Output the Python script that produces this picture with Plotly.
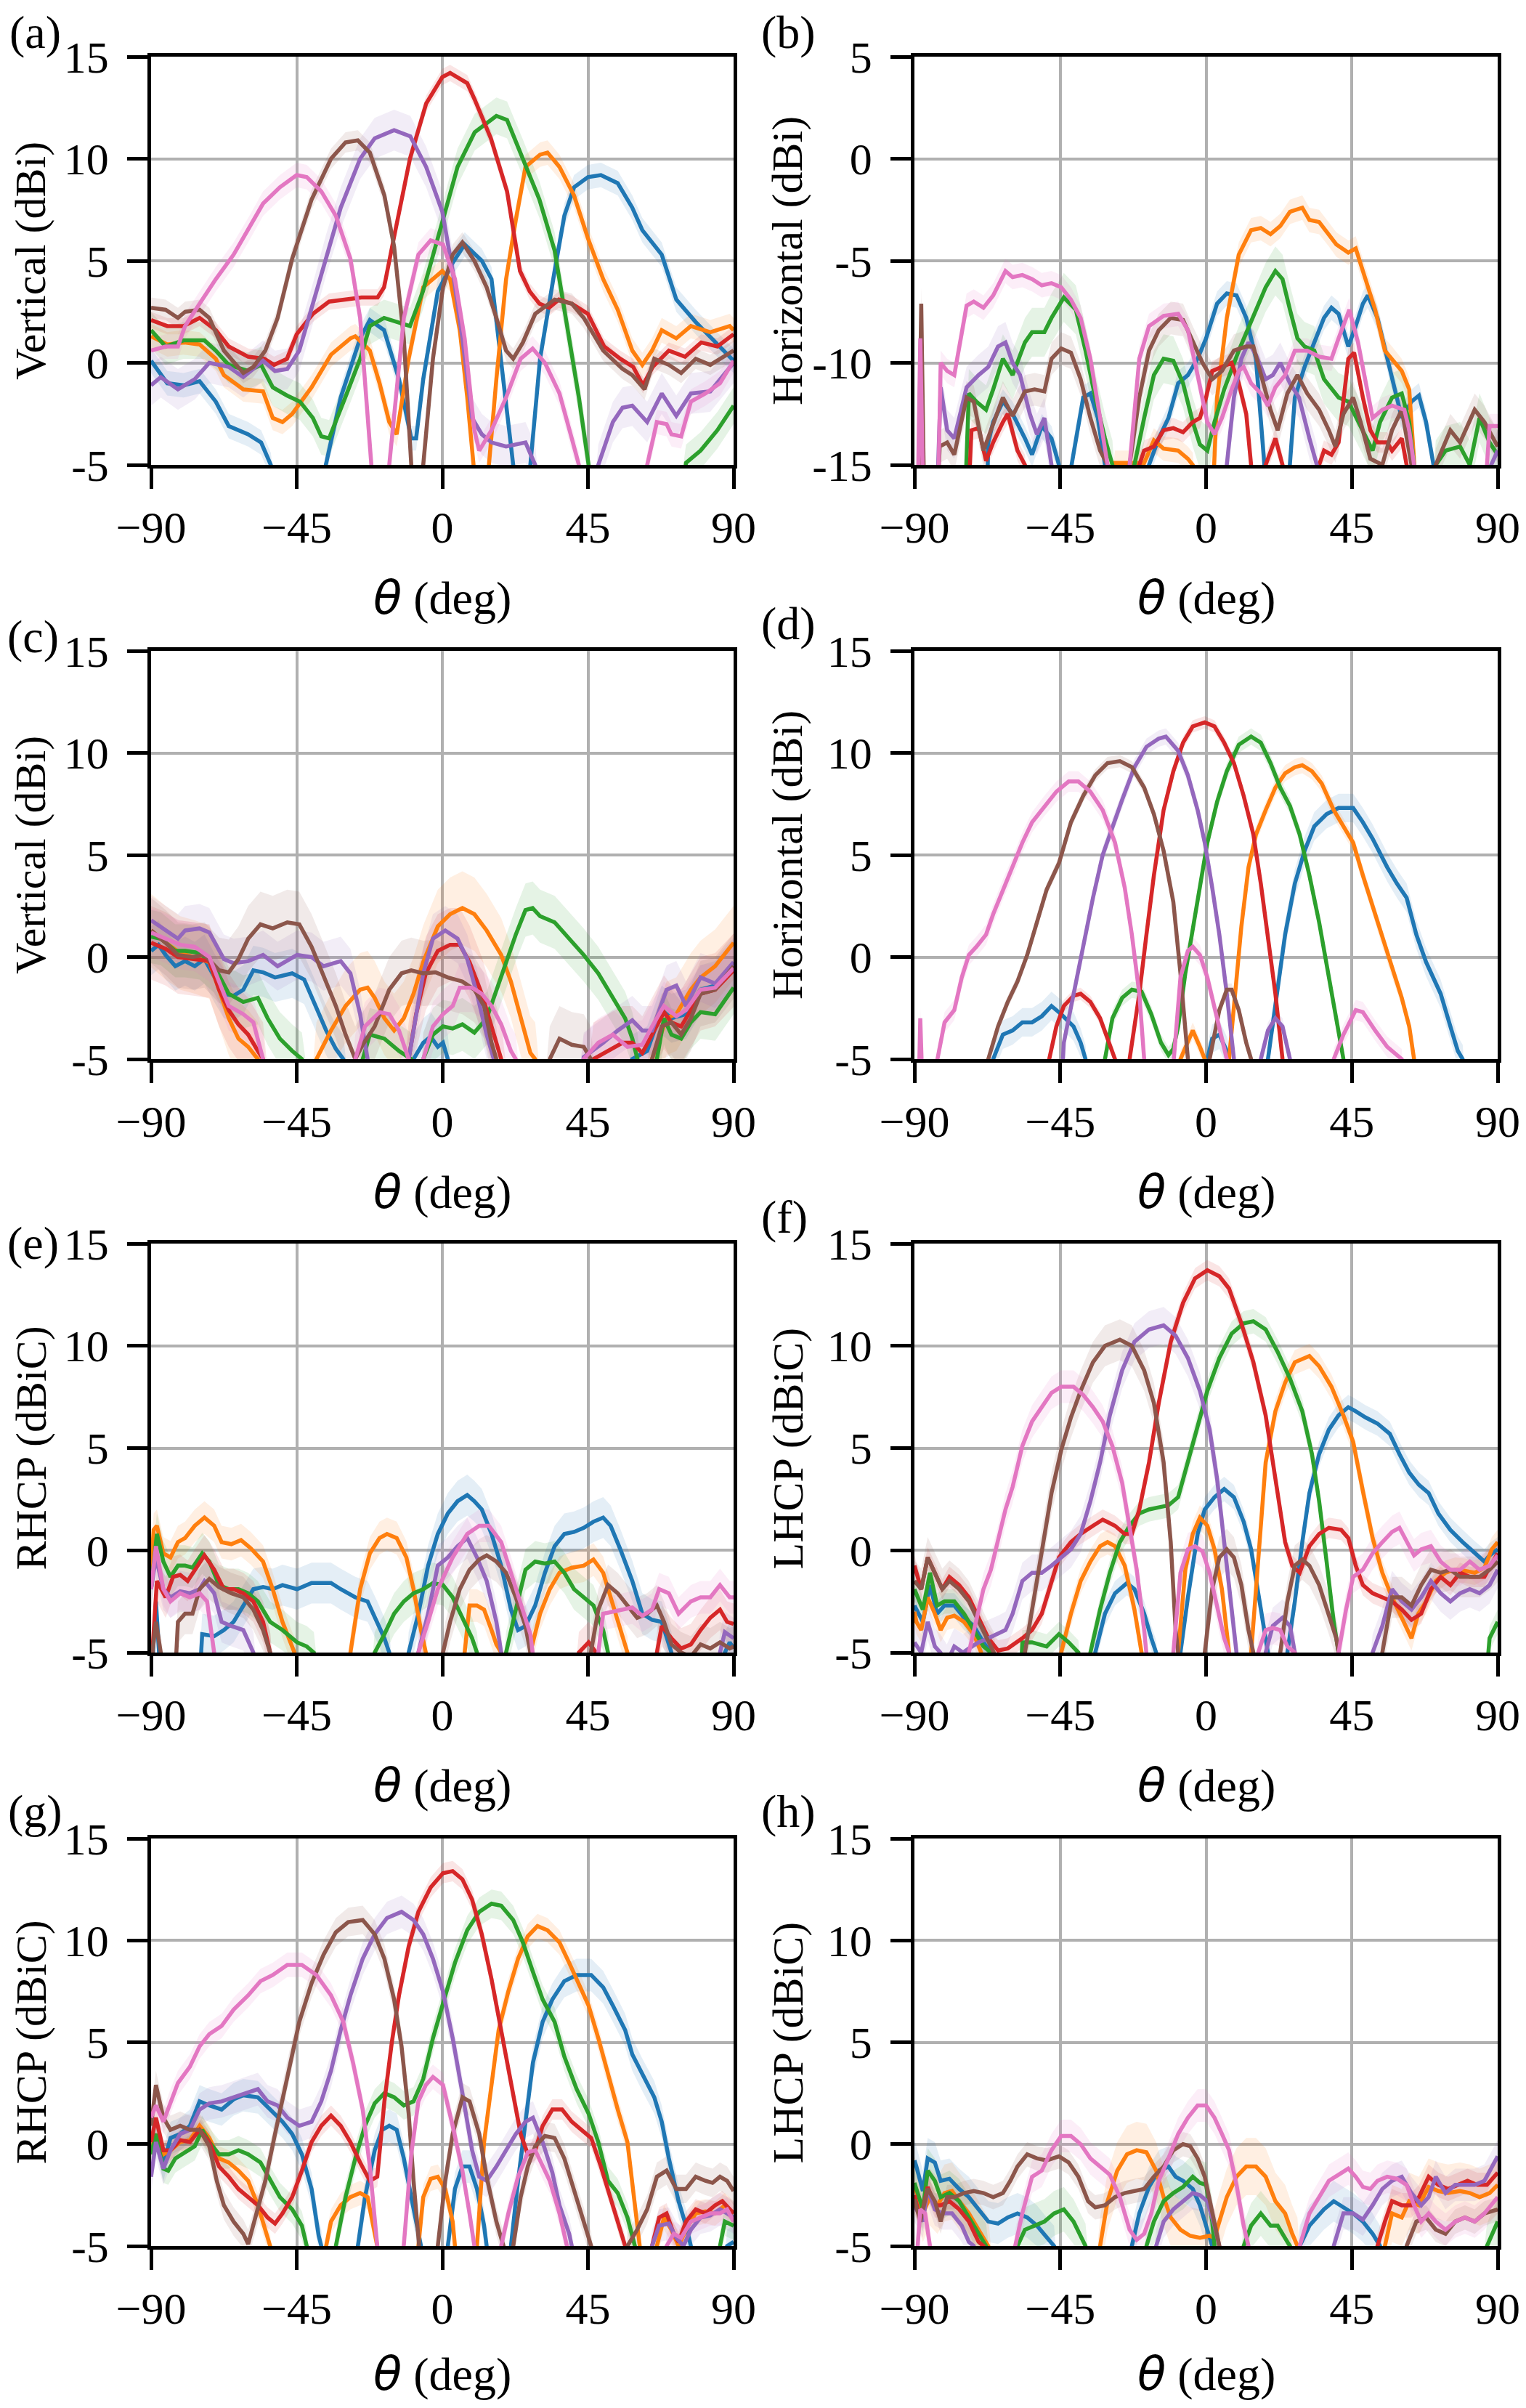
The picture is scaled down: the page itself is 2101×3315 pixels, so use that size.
import plotly.graph_objects as go

# 窗口尺寸 (页面 body 有 8px 边距, 图整体偏移 8px 且不溢出窗口)
WIN_W, WIN_H = 2101, 3315
PAD = 8
W, H = WIN_W - 2 * PAD, WIN_H - 2 * PAD

# matplotlib tab10 配色
COLORS = ['#1f77b4', '#ff7f0e', '#2ca02c', '#d62728', '#9467bd', '#8c564b', '#e377c2']
FILLS = ['rgba(31,119,180,0.12)', 'rgba(255,127,14,0.12)', 'rgba(44,160,44,0.12)',
         'rgba(214,39,40,0.12)', 'rgba(148,103,189,0.12)', 'rgba(140,86,75,0.12)',
         'rgba(227,119,194,0.12)']

X_TICKS = [-90, -45, 0, 45, 90]
X_TICKTEXT = ['\u221290', '\u221245', '0', '45', '90']

# ---------------- (a) Vertical ----------------
A_BLUE = [(-90, 0.1), (-85, -1.0), (-80, -1.1), (-75, -0.9), (-70, -1.9), (-66, -3.1), (-60, -3.5), (-56, -3.9), (-53, -5.0), (-50, -9), (-39, -9), (-36, -5.0), (-31.4, -1.7), (-25.4, 1.2), (-22.4, 2.1), (-18, 1.6), (-13.4, -0.8), (-9.6, -3.7), (-8.1, -3.7), (-5.9, -0.8), (-1.4, 3.5), (3.2, 4.9), (6.9, 5.8), (12.2, 5.0), (15.2, 4.1), (18.2, 0.2), (21.9, -5.0), (24, -9), (26, -9), (27.2, -5.0), (30.2, 0.2), (34.7, 4.5), (37.7, 7.2), (40.7, 8.6), (45, 9.1), (49, 9.2), (54.2, 8.8), (58.7, 7.6), (61.8, 6.5), (67.8, 5.3), (72.3, 3.1), (78.3, 2.0), (84.3, 1.0), (90, 0.1)]
A_ORANGE = [(-90, 1.3), (-85, 0.9), (-80, 1.0), (-75, 0.9), (-70, 0.2), (-67.5, -0.6), (-61.5, -1.3), (-55.4, -1.4), (-52.4, -2.7), (-49.4, -2.9), (-46.4, -2.5), (-40.4, -1.2), (-34.4, 0.4), (-28.4, 1.2), (-26.9, 1.3), (-22.4, 0.6), (-19.4, -1.0), (-16.4, -2.9), (-14.1, -3.5), (-10.4, 0.2), (-5.9, 3.7), (0, 4.5), (2.4, 4.1), (5.4, 1.6), (7.7, -1.7), (9.9, -5.0), (12, -9), (13, -9), (14.4, -5.0), (16.7, -0.8), (19.7, 4.1), (22.7, 7.0), (25.7, 9.6), (30.2, 10.2), (32.5, 10.3), (36.2, 9.6), (40.7, 8.2), (45, 6.1), (49.7, 4.1), (54.2, 2.6), (58.7, 0.6), (61.8, -0.1), (64.8, 0.6), (67.8, 1.6), (72.3, 1.2), (76.8, 1.8), (82.8, 1.5), (88.8, 1.8), (90, 1.6)]
A_GREEN = [(-90, 1.6), (-85.5, 0.8), (-80, 1.1), (-73.5, 1.1), (-70, 0.6), (-66, -0.1), (-60, -0.4), (-56, -0.1), (-52.4, -1.2), (-48, -1.6), (-44, -1.9), (-40, -2.7), (-37.4, -3.6), (-35, -3.7), (-30, -1.7), (-25.4, 0.2), (-22.4, 1.8), (-18, 2.2), (-10, 1.8), (-6, 3.5), (0, 6.9), (4.7, 9.6), (10, 11.3), (16.7, 12.1), (20, 11.9), (25, 10.0), (30, 8.0), (34.7, 5.5), (37.7, 2.6), (42.2, -1.7), (45.2, -5.0), (48, -9), (72, -9), (75.3, -4.9), (79.8, -4.3), (85, -3.3), (90, -2.1)]
A_RED = [(-90, 2.1), (-85, 1.8), (-80, 1.8), (-75, 2.2), (-70, 1.6), (-66, 0.8), (-60, 0.3), (-55, 0.2), (-52, -0.1), (-48, 0.2), (-45, 1.4), (-40, 2.4), (-35, 3.0), (-30, 3.1), (-25, 3.2), (-20, 3.2), (-18, 3.7), (-15, 6.1), (-10, 10.0), (-5, 12.7), (0, 14.0), (2.4, 14.2), (7.7, 13.7), (10, 12.9), (15, 11.0), (20, 8.4), (24, 4.5), (27, 3.5), (30, 2.9), (33, 2.7), (36, 3.1), (40, 2.9), (45, 2.4), (50, 0.8), (55, 0.2), (59, -0.2), (62, -1.1), (65, -0.2), (70, 0.6), (75, 0.3), (80, 1.0), (85, 0.8), (90, 1.4)]
A_PURPLE = [(-90, -1.1), (-87, -0.7), (-81.7, -1.3), (-76.5, -0.8), (-72, 0.0), (-66, -0.2), (-61.5, -0.7), (-55.4, 0.1), (-51.7, -0.4), (-47.9, -0.3), (-44.2, 0.6), (-40, 2.9), (-35.9, 5.3), (-31.4, 7.6), (-25.4, 10.0), (-20.9, 11.0), (-14.9, 11.4), (-9.9, 11.1), (-5, 9.6), (0, 7.4), (3.2, 4.5), (6.2, 1.2), (9.2, -2.7), (12.2, -3.5), (15.2, -3.9), (19.7, -4.1), (25.7, -3.9), (28.7, -5.0), (31, -9), (46, -9), (48.2, -5.0), (52.7, -2.9), (55.7, -2.2), (58.7, -2.1), (63.3, -2.9), (67.8, -1.5), (72.3, -2.6), (76.8, -1.5), (82.8, -1.4), (90, 0.0)]
A_BROWN = [(-90, 2.7), (-85.5, 2.6), (-81.7, 2.2), (-79.5, 2.5), (-75, 2.6), (-72, 2.2), (-67.5, 0.6), (-61.5, -0.5), (-58.4, -0.2), (-54.7, 0.6), (-50.9, 2.2), (-46.4, 5.1), (-40.4, 8.0), (-34.4, 10.0), (-29.9, 10.8), (-26.1, 10.9), (-22.4, 10.3), (-17.9, 8.2), (-14.9, 5.7), (-11.9, 1.2), (-9.6, -5.0), (-8, -9), (-7, -9), (-5.9, -5.0), (-2.9, 0.2), (0.2, 3.7), (3.2, 5.3), (6.2, 5.9), (9.9, 5.0), (13.7, 3.7), (16.7, 2.2), (19.7, 0.6), (21.9, 0.2), (24.9, 1.0), (28.7, 2.4), (34.7, 3.1), (40, 2.9), (43.7, 2.2), (49.7, 0.6), (55.7, -0.3), (58.7, -0.6), (62.5, -1.3), (65.5, 0.2), (70, -0.1), (73.8, -0.5), (78.3, 0.2), (82.8, -0.1), (90, 0.6)]
A_PINK = [(-90, 0.6), (-85.5, 0.8), (-81.7, 0.8), (-79.5, 1.8), (-75, 2.9), (-70, 4.1), (-64.5, 5.3), (-60, 6.5), (-55.4, 7.8), (-50.2, 8.6), (-45, 9.2), (-41.9, 9.1), (-37.4, 8.4), (-32.9, 7.2), (-28.4, 5.1), (-25.4, 2.2), (-22.4, -5.0), (-20, -9), (-18, -9), (-16.4, -5.0), (-11.9, 2.2), (-7.4, 5.3), (-3.6, 6.0), (0.2, 5.8), (3.9, 4.1), (6.9, 1.2), (9.9, -3.3), (11.4, -4.3), (15.2, -3.3), (19.7, -1.7), (24.2, 0.2), (27.9, 0.7), (31.7, 0.0), (36.2, -1.5), (40, -3.7), (42.2, -5.0), (45, -9), (61, -9), (63.3, -5.0), (66.3, -2.9), (69.3, -3.0), (70.8, -3.5), (73.8, -3.6), (76.8, -1.9), (81.3, -1.5), (85.8, -1.0), (90, 0.1)]
A_SPREAD = [0.6, 0.6, 0.9, 0.4, 1.0, 0.5, 0.6]

# ---------------- (b) Horizontal ----------------
B_BLUE = [(-90, -19), (-68, -19), (-67.2, -13.9), (-65.7, -12.9), (-62.7, -11.9), (-59.7, -12.5), (-55.9, -13.7), (-53.7, -14.5), (-50.7, -13.1), (-47.7, -13.7), (-45.4, -15.0), (-43, -19), (-41.5, -15.0), (-40.2, -13.7), (-37.9, -11.7), (-35.7, -11.5), (-33.4, -12.7), (-31.2, -15.0), (-29, -19), (-19, -19), (-17.6, -15.0), (-14.6, -13.7), (-11.6, -12.7), (-8.6, -11.0), (-5.6, -10.6), (-2.6, -9.8), (0, -8.8), (3.4, -7.1), (6.4, -6.6), (9.4, -6.7), (12.4, -7.8), (15.4, -9.8), (18.4, -15.0), (20, -19), (24, -19), (25.9, -15.0), (27.4, -11.7), (30.4, -10.2), (33.4, -9.0), (36.4, -7.8), (38.7, -7.3), (40.9, -7.6), (43.9, -9.2), (46.2, -8.2), (48.4, -7.1), (49.9, -6.7), (52.9, -7.8), (55.9, -9.8), (58.9, -11.7), (60.4, -12.7), (63.4, -11.9), (65.7, -11.6), (67.9, -12.9), (70.2, -15.0), (72, -19), (90, -19)]
B_ORANGE = [(-90, -19), (-31, -19), (-28.1, -14.9), (-19.1, -14.9), (-16.1, -13.8), (-13.1, -14.2), (-8.6, -14.3), (-5.6, -14.7), (-4.1, -15.0), (-2, -19), (1, -19), (2.5, -15.0), (3.4, -11.7), (6.4, -7.8), (10.1, -4.7), (13.9, -3.5), (16.9, -3.4), (19.9, -3.7), (22.9, -3.3), (25.9, -2.6), (29.7, -2.4), (31.9, -3.0), (34.9, -3.1), (37.9, -3.7), (40.2, -4.2), (43.9, -4.6), (46.2, -4.4), (49.2, -5.9), (52.2, -7.4), (55.2, -9.4), (57.4, -9.8), (60.4, -10.4), (62.7, -11.3), (64.2, -15.0), (66, -19), (90, -19)]
B_GREEN = [(-90, -19), (-75, -19), (-74, -15.0), (-73.2, -11.5), (-70.9, -11.9), (-67.9, -12.3), (-65.7, -11.3), (-62.7, -9.8), (-59.7, -10.6), (-55.9, -9.0), (-53.7, -8.5), (-49.9, -8.5), (-47.7, -7.8), (-43.9, -6.8), (-40.2, -7.4), (-37.2, -9.4), (-34.2, -11.7), (-31.2, -13.7), (-28.9, -15.0), (-27, -19), (-24, -19), (-22.1, -15.0), (-19.1, -12.7), (-16.1, -10.6), (-13.1, -9.8), (-10.1, -9.9), (-7.1, -11.0), (-4.1, -12.9), (-1.9, -14.0), (0.4, -14.3), (2.6, -12.9), (5.6, -11.3), (10.1, -9.4), (13.9, -8.0), (18.4, -6.3), (21.4, -5.5), (23.6, -5.9), (25.9, -7.4), (28.2, -8.8), (30.4, -9.2), (33.4, -9.4), (36.4, -10.8), (40.9, -11.7), (43.9, -11.9), (48.4, -13.3), (51.4, -14.3), (53.7, -12.9), (57.4, -11.7), (60.4, -11.5), (62.7, -12.9), (64.2, -15.0), (66, -19), (69, -19), (70.9, -15.0), (73.9, -14.3), (78.4, -14.1), (81.4, -15.0), (84.4, -12.7), (87.5, -13.9), (90, -14.5)]
B_RED = [(-90, -19), (-74, -19), (-72.4, -13.3), (-70.2, -13.2), (-67.9, -14.8), (-65.7, -13.9), (-62.7, -12.9), (-61.2, -12.5), (-58.2, -14.3), (-55.9, -15.0), (-54, -19), (-22, -19), (-20.6, -15.0), (-19.1, -14.3), (-16.1, -14.1), (-13.1, -13.3), (-10.1, -13.2), (-7.1, -13.4), (-4.1, -12.9), (-1.9, -12.7), (0, -11.7), (1.9, -10.4), (4.9, -10.2), (7.9, -10.0), (10.1, -11.0), (12.4, -12.5), (13.9, -15.0), (16, -19), (17, -19), (18.4, -15.0), (21.4, -13.7), (23.6, -15.0), (25, -19), (33, -19), (34.9, -15.0), (36.4, -14.3), (38.7, -14.5), (40.9, -13.9), (43.9, -9.8), (45.7, -9.5), (48.4, -11.7), (50.7, -13.3), (52.9, -13.9), (55.9, -13.9), (57.4, -14.3), (60.4, -13.7), (61.9, -15.0), (64, -19), (90, -19)]
B_PURPLE = [(-90, -19), (-83.5, -19), (-81.9, -11.2), (-79.9, -13.3), (-77.7, -13.7), (-73.9, -11.2), (-70.2, -10.6), (-67.2, -10.2), (-64.2, -9.2), (-61.9, -9.0), (-59.7, -10.0), (-57.4, -10.6), (-54.4, -12.5), (-52.2, -13.5), (-49.9, -12.7), (-47.7, -15.0), (-46, -19), (5, -19), (6.4, -15.0), (8.6, -11.7), (10.9, -9.8), (13.1, -9.0), (15.4, -9.6), (18.4, -10.8), (20.6, -10.6), (22.9, -10.0), (25.9, -11.0), (28.7, -11.7), (31.9, -13.7), (34.2, -15.0), (36, -19), (86, -19), (88, -15.0), (90, -14.3)]
B_BROWN = [(-90, -19), (-89, -19), (-87.9, -7.1), (-86.8, -19), (-83.5, -19), (-82.2, -14.1), (-79.9, -13.9), (-77.7, -14.5), (-73.9, -11.7), (-71.7, -11.9), (-68.7, -14.3), (-66.4, -13.3), (-62.7, -11.7), (-59.7, -12.6), (-55.9, -11.4), (-52.9, -11.3), (-49.9, -11.4), (-47.7, -9.8), (-44.7, -9.3), (-41.7, -9.5), (-38.7, -10.8), (-35.7, -12.7), (-32.7, -14.3), (-30.4, -15.0), (-28, -19), (-25, -19), (-23.6, -15.0), (-20.6, -11.7), (-17.6, -9.4), (-14.6, -8.4), (-10.9, -7.8), (-7.1, -7.9), (-4.1, -9.0), (-1.1, -10.0), (1.9, -10.8), (4.9, -10.4), (8.6, -9.4), (12.4, -9.2), (14.6, -9.2), (16.9, -10.6), (19.9, -12.3), (22.1, -13.3), (25.1, -11.5), (28.2, -10.6), (31.2, -11.5), (34.9, -12.3), (37.9, -13.3), (39.9, -14.1), (42.4, -12.5), (45.4, -11.7), (47.7, -12.9), (50.7, -14.7), (54.4, -15.0), (57.4, -13.3), (60.4, -12.3), (63.4, -15.0), (65, -19), (69.5, -19), (70.9, -15.0), (75.4, -13.3), (78.4, -13.9), (82.9, -12.3), (85.9, -12.9), (90, -14.1)]
B_PINK = [(-90, -19), (-89.2, -19), (-88.2, -8.8), (-87, -19), (-83, -19), (-81.9, -10.0), (-79.9, -10.4), (-77.7, -10.6), (-73.9, -7.2), (-71.7, -7.0), (-68.7, -7.3), (-65.7, -6.7), (-61.9, -5.5), (-59.7, -5.8), (-56.7, -5.7), (-53.7, -5.9), (-50.7, -6.2), (-47.7, -6.1), (-44.7, -6.3), (-41.7, -6.9), (-38.7, -7.8), (-35.7, -9.8), (-32.7, -12.7), (-30.4, -15.0), (-28, -19), (-25, -19), (-23.6, -15.0), (-20.6, -9.8), (-17.6, -8.2), (-13.1, -7.7), (-8.6, -7.6), (-5.6, -8.4), (-2.6, -10.6), (0.4, -12.9), (2.6, -13.5), (4.9, -12.7), (7.9, -11.3), (10.1, -10.4), (11.6, -10.2), (13.9, -11.0), (16.9, -11.5), (19.1, -12.1), (21.4, -11.2), (24.4, -10.6), (27.4, -9.4), (31.2, -9.4), (34.9, -9.7), (38.7, -9.8), (40.9, -8.8), (44.2, -7.4), (46.9, -9.0), (49.2, -11.0), (51.4, -12.7), (54.4, -12.3), (57.4, -12.1), (61.2, -12.3), (62.7, -13.3), (64.2, -15.0), (66, -19), (85, -19), (87.5, -13.1), (90, -13.1)]
B_SPREAD = [0.6, 0.6, 1.2, 0.5, 1.0, 0.8, 0.6]

# ---------------- (c) Vertical ----------------
C_BLUE = [(-90, 0.3), (-87.7, 0.6), (-85.5, 0.1), (-82.5, -0.45), (-79.5, -0.2), (-76.5, -0.45), (-73.5, -0.1), (-70.5, -1.0), (-67.5, -1.8), (-64.5, -1.9), (-61.5, -1.6), (-58.4, -0.65), (-55.4, -0.75), (-51.7, -1.0), (-46.4, -0.8), (-42.7, -1.1), (-39.7, -2.2), (-35.9, -3.6), (-32.9, -4.5), (-30.6, -5.0), (-28, -9), (-11, -9), (-8.9, -5.0), (-5.9, -4.2), (-3.6, -3.9), (-1.4, -4.4), (0.2, -4.2), (1.7, -5.0), (4, -9), (56, -9), (58.7, -5.0), (63.3, -4.6), (67.8, -2.6), (70.8, -3.0), (75.3, -2.8), (79.8, -1.6), (84.3, -1.4), (90, -0.45)]
C_ORANGE = [(-90, 1.3), (-85.5, 0.7), (-81, 0.2), (-76.5, 0.0), (-72, -0.25), (-69, -1.6), (-66, -3.0), (-63, -4.0), (-60, -4.4), (-57, -5.0), (-55, -9), (-41, -9), (-38.9, -5.0), (-34.4, -3.6), (-29.9, -2.4), (-25.4, -1.6), (-23.1, -1.5), (-20.9, -2.0), (-17.9, -3.0), (-14.9, -3.6), (-11.9, -3.0), (-8.9, -1.8), (-5.9, -0.25), (-1.4, 1.5), (2.4, 2.1), (6.2, 2.4), (9.9, 2.1), (13.7, 1.3), (18.2, 0.1), (21.2, -1.2), (24.2, -3.0), (27.2, -4.7), (28.7, -5.0), (31, -9), (62, -9), (64.8, -5.0), (69.3, -3.0), (72.3, -2.8), (76.8, -1.6), (79.8, -1.0), (84.3, -0.45), (90, 0.7)]
C_GREEN = [(-90, 1.0), (-87, 0.9), (-82.5, 0.3), (-79.5, 0.3), (-75, 0.2), (-70.5, -0.45), (-66, -1.8), (-61.5, -2.2), (-57, -2.0), (-54, -3.0), (-50.2, -4.0), (-46.4, -4.6), (-43.4, -5.0), (-40, -9), (-28, -9), (-24.6, -5.0), (-22.4, -3.8), (-17.9, -4.0), (-13.4, -4.6), (-9.6, -5.0), (-8, -9), (-7, -9), (-5.9, -5.0), (-2.9, -3.8), (0.2, -3.4), (3.2, -3.5), (6.2, -3.3), (9.9, -3.7), (13.7, -3.0), (16.7, -1.6), (19.7, -0.25), (22.7, 1.1), (25.7, 2.3), (27.9, 2.4), (30.2, 2.0), (34.7, 1.7), (39.2, 0.9), (43.7, 0.1), (48.2, -0.8), (52.7, -2.0), (56.5, -3.0), (58.7, -4.0), (60.3, -5.0), (63, -9), (64, -9), (66.3, -5.0), (68.5, -3.0), (70.8, -3.8), (73.8, -4.0), (76.8, -3.2), (79.8, -2.7), (84.3, -2.8), (90, -1.5)]
C_RED = [(-90, 0.7), (-85.5, 0.4), (-81.7, 0.0), (-76.5, -0.1), (-72, -0.2), (-69, -1.6), (-66, -2.6), (-63, -3.3), (-60, -3.8), (-57, -4.6), (-55.4, -5.0), (-53, -9), (-13, -9), (-10.4, -5.0), (-8.1, -2.8), (-5.1, -0.8), (-1.4, 0.3), (2.4, 0.6), (5.4, 0.6), (8.4, -0.25), (12.2, -1.8), (15.2, -3.4), (18.2, -5.0), (21, -9), (44, -9), (46.7, -5.0), (51.2, -4.6), (55.7, -4.2), (58.7, -4.2), (61.8, -4.7), (64.8, -3.8), (68.5, -2.7), (70.8, -3.2), (73.8, -3.4), (76.8, -2.6), (79.8, -1.8), (84.3, -1.6), (90, -0.65)]
C_PURPLE = [(-90, 1.8), (-85.5, 1.3), (-81.7, 0.9), (-79.5, 1.3), (-75, 1.4), (-72, 1.2), (-67.5, -0.1), (-64.5, -0.3), (-60, -0.2), (-55.4, 0.1), (-50.9, -0.45), (-44.9, 0.1), (-40.4, 0.0), (-36.7, -0.45), (-31.4, -0.2), (-28.4, -0.8), (-25.4, -2.8), (-23.1, -5.0), (-21, -9), (-13, -9), (-10.4, -5.0), (-5.9, -0.8), (-2.9, 0.9), (0.9, 1.3), (4.7, 0.9), (7.7, -0.1), (10.7, -1.8), (13.7, -3.8), (15.9, -5.0), (18, -9), (41, -9), (43.7, -4.9), (49.7, -4.2), (54.2, -3.6), (58.7, -3.1), (61.8, -3.6), (64.8, -3.6), (69.3, -1.6), (72.3, -1.4), (75.3, -2.4), (79.8, -1.0), (84.3, -1.3), (90, -0.25)]
C_BROWN = [(-90, 1.3), (-85.5, 0.7), (-81.7, 0.1), (-77.2, 0.0), (-73.5, 0.1), (-69, -0.65), (-66, -0.75), (-63, -0.1), (-60, 0.9), (-56.2, 1.6), (-52.4, 1.4), (-47.9, 1.7), (-44.2, 1.6), (-40.4, 0.5), (-37.4, -0.65), (-32.9, -2.4), (-29.9, -3.8), (-26.9, -5.0), (-24.6, -4.3), (-20.9, -3.4), (-16.4, -1.6), (-12.6, -0.8), (-9.6, -0.65), (-5.9, -0.8), (-2.1, -0.75), (1.7, -1.0), (6.2, -1.2), (9.9, -1.6), (12.9, -2.4), (15.2, -4.2), (16.7, -5.0), (19, -9), (31, -9), (33.2, -5.0), (36.2, -4.0), (40, -4.3), (43.7, -4.4), (45.9, -5.0), (48, -9), (62, -9), (64.8, -5.0), (67.8, -3.4), (70.8, -3.2), (73.8, -3.8), (76.8, -3.0), (79.8, -1.8), (84.3, -1.6), (90, -0.45)]
C_PINK = [(-90, 1.2), (-85.5, 0.9), (-81, 0.6), (-76.5, 0.5), (-72, 0.0), (-69, -1.2), (-66, -2.4), (-61.5, -2.8), (-58.4, -3.2), (-55.4, -5.0), (-53, -9), (-29, -9), (-26.9, -5.0), (-23.9, -3.4), (-19.4, -2.7), (-16.4, -2.8), (-13.4, -3.6), (-10.4, -5.0), (-8, -9), (-7.5, -9), (-5.9, -5.0), (-2.9, -3.4), (0.2, -2.8), (3.2, -2.4), (5.4, -1.5), (9.2, -1.5), (12.2, -1.8), (15.2, -2.4), (18.2, -3.3), (21.2, -4.6), (22.7, -5.0), (25, -9), (41, -9), (43.7, -5.0), (48.2, -4.2), (52.7, -3.8), (57.2, -4.4), (61.8, -4.3), (64.8, -3.4), (68.5, -2.4), (72.3, -2.9), (75.3, -2.6), (79.8, -1.6), (84.3, -1.5), (90, -0.55)]
C_SPREAD = [1.2, 1.8, 1.3, 1.8, 1.2, 1.6, 1.2]

# ---------------- (d) Horizontal ----------------
D_BLUE = [(-90, -9), (-67, -9), (-65.7, -5.0), (-62.7, -3.8), (-59.7, -3.6), (-56.7, -3.2), (-53.7, -3.2), (-50.7, -2.9), (-47.7, -2.4), (-44.7, -2.8), (-40.9, -3.4), (-38.7, -4.2), (-37.2, -5.0), (-35, -9), (-1, -9), (0.4, -5.0), (1.9, -4.0), (4.1, -3.8), (6.4, -4.6), (7.1, -5.0), (9, -9), (17, -9), (19.1, -5.0), (21.4, -2.2), (24.4, 1.1), (27.4, 3.6), (30.4, 5.2), (33.4, 6.4), (37.2, 7.0), (40.9, 7.3), (45.4, 7.3), (48.4, 6.6), (51.4, 5.8), (55.9, 4.4), (58.9, 3.6), (61.9, 2.9), (64.9, 1.1), (67.9, -0.25), (72.4, -1.8), (75.4, -3.4), (77.7, -4.6), (79.2, -5.0), (81, -9), (90, -9)]
D_ORANGE = [(-90, -9), (-9.5, -9), (-7.9, -5.0), (-5.6, -4.2), (-4.1, -3.6), (-1.9, -4.4), (-0.4, -5.0), (1.5, -9), (5.5, -9), (7.1, -5.0), (8.6, -2.6), (10.9, 1.5), (13.1, 4.4), (15.4, 6.0), (18.4, 7.2), (21.4, 8.3), (24.4, 9.0), (27.4, 9.3), (29.7, 9.4), (32.7, 9.1), (35.7, 8.5), (39.4, 7.2), (42.4, 6.4), (45.4, 5.6), (48.4, 4.0), (51.4, 2.5), (54.4, 0.9), (57.4, -0.6), (60.4, -2.0), (62.7, -3.4), (64.2, -5.0), (66, -9), (90, -9)]
D_GREEN = [(-90, -9), (-33, -9), (-31.2, -5.0), (-28.9, -3.0), (-25.9, -2.0), (-22.9, -1.6), (-19.9, -1.7), (-16.9, -2.8), (-13.9, -4.2), (-11.6, -4.8), (-10.1, -4.5), (-8.6, -3.4), (-6.4, -0.8), (-4.1, 1.3), (-1.9, 3.3), (0.4, 5.6), (3.4, 7.6), (6.4, 9.1), (10.1, 10.4), (13.9, 10.8), (16.9, 10.5), (19.9, 9.5), (22.9, 8.3), (25.9, 7.4), (28.9, 6.0), (31.9, 4.0), (34.9, 1.7), (37.9, -1.0), (40.9, -3.8), (42.4, -5.0), (44, -9), (90, -9)]
D_RED = [(-90, -9), (-50, -9), (-48.4, -5.0), (-46.2, -3.4), (-43.9, -2.4), (-40.9, -1.9), (-38.7, -1.8), (-35.7, -2.2), (-32.7, -3.0), (-30.4, -4.0), (-28.1, -5.0), (-26, -9), (-25, -9), (-23.6, -5.0), (-20.6, -1.8), (-18.4, 1.1), (-16.1, 4.0), (-13.1, 7.2), (-10.1, 9.1), (-7.1, 10.5), (-4.1, 11.3), (-0.4, 11.5), (2.6, 11.3), (5.6, 10.5), (8.6, 9.5), (11.6, 7.9), (14.6, 6.0), (16.9, 3.6), (19.1, 1.1), (21.4, -1.8), (23.6, -5.0), (25, -9), (90, -9)]
D_PURPLE = [(-90, -9), (-45.5, -9), (-43.9, -4.2), (-40.9, -1.8), (-37.9, 0.5), (-34.9, 2.9), (-31.9, 5.0), (-28.9, 6.4), (-25.9, 7.7), (-22.1, 9.3), (-18.4, 10.3), (-14.6, 10.7), (-12.4, 10.8), (-8.6, 10.1), (-5.6, 8.9), (-2.6, 7.2), (-0.4, 5.6), (1.9, 3.4), (4.1, 1.1), (6.4, -1.8), (8.6, -5.0), (10, -9), (15, -9), (16.9, -5.0), (19.1, -3.6), (21.4, -3.0), (23.6, -3.4), (25.9, -5.0), (27, -9), (90, -9)]
D_BROWN = [(-90, -9), (-69, -9), (-67.2, -5.0), (-64.2, -3.4), (-61.2, -2.2), (-58.2, -1.2), (-55.2, 0.1), (-52.2, 1.7), (-49.2, 3.3), (-45.4, 4.6), (-41.7, 6.6), (-37.9, 7.9), (-34.2, 8.9), (-30.4, 9.5), (-26.6, 9.6), (-22.9, 9.3), (-19.1, 8.3), (-16.1, 7.0), (-13.1, 5.2), (-10.1, 2.7), (-7.9, -0.8), (-5.6, -5.0), (-3, -9), (-0.5, -9), (1.1, -5.0), (4.1, -2.6), (6.4, -1.6), (7.9, -1.6), (10.1, -2.6), (12.4, -4.2), (13.9, -5.0), (15.5, -9), (90, -9)]
D_PINK = [(-90, -9), (-89, -9), (-88.2, -3.0), (-87, -9), (-84, -9), (-82.9, -5.0), (-80.7, -3.2), (-77.7, -2.6), (-75.4, -1.0), (-73.2, 0.1), (-70.9, 0.5), (-67.9, 1.1), (-65.7, 2.1), (-62.7, 3.3), (-59.7, 4.4), (-56.7, 5.6), (-53.7, 6.6), (-49.9, 7.4), (-46.2, 8.1), (-42.4, 8.6), (-39.4, 8.6), (-35.7, 8.1), (-31.9, 7.2), (-28.1, 5.6), (-25.1, 3.4), (-22.9, 1.1), (-20.6, -1.8), (-19.1, -5.0), (-17, -9), (-12, -9), (-10.1, -5.0), (-7.9, -1.0), (-5.6, 0.3), (-4.1, 0.5), (-1.9, 0.1), (0.4, -1.0), (3.4, -3.0), (6.4, -5.0), (8, -9), (37.5, -9), (39.4, -5.0), (42.4, -3.8), (46.2, -2.6), (48.4, -2.7), (52.2, -3.6), (55.9, -4.4), (60.4, -5.0), (62, -9), (90, -9)]
D_SPREAD = [0.7, 0.4, 0.4, 0.3, 0.4, 0.3, 0.5]

# ---------------- (e) RHCP ----------------
E_BLUE = [(-90, -9), (-89.4, -5.0), (-88.5, -2.5), (-87.5, -5.0), (-86, -9), (-76, -9), (-74.2, -4.1), (-70.5, -4.2), (-67.5, -3.9), (-64.5, -3.5), (-61.5, -2.7), (-58.4, -1.9), (-55.4, -1.8), (-52.4, -1.9), (-49.4, -1.7), (-44.9, -1.9), (-40.4, -1.6), (-34.4, -1.6), (-31.4, -1.9), (-26.9, -2.3), (-23.1, -2.5), (-20.1, -3.5), (-17.9, -4.3), (-16.4, -5.0), (-14, -9), (-12, -9), (-10.4, -5.0), (-7.4, -3.1), (-4.4, -0.75), (-1.4, 0.8), (1.7, 1.8), (4.7, 2.4), (7.7, 2.7), (9.9, 2.4), (12.2, 2.0), (15.2, 0.8), (18.2, -0.75), (21.2, -2.9), (23.4, -3.9), (25.7, -3.7), (28.7, -2.7), (31.7, -1.1), (34.7, 0.2), (37.7, 0.8), (40.7, 0.9), (43.7, 1.1), (46.7, 1.4), (49.7, 1.6), (52, 1.2), (55, 0.05), (58.7, -1.5), (61.8, -3.1), (64.8, -3.4), (67.8, -3.5), (70.8, -5.0), (73, -9), (85, -9), (87.3, -5.0), (88.8, -4.5), (90, -4.8)]
E_ORANGE = [(-90, -1.0), (-89.2, 1.0), (-88.2, 1.2), (-86.2, -0.15), (-84, -0.35), (-81.7, 0.4), (-79.5, 0.6), (-76.5, 1.2), (-73.5, 1.6), (-70.5, 1.2), (-68.2, 0.4), (-65.2, 0.3), (-62.2, 0.5), (-59.2, 0.1), (-55.4, -0.55), (-52.4, -1.9), (-49.4, -3.5), (-46.4, -4.8), (-45.7, -5.0), (-43, -9), (-31, -9), (-28.4, -5.0), (-25.4, -1.9), (-22.4, -0.15), (-19.4, 0.6), (-17.1, 0.8), (-14.1, 0.6), (-11.1, -0.35), (-8.9, -1.9), (-6.6, -3.9), (-5.1, -5.0), (-3, -9), (5, -9), (6.9, -5.0), (8.4, -2.7), (10.7, -2.7), (12.9, -2.9), (15.2, -3.9), (16.7, -4.6), (18.2, -5.0), (20, -9), (25, -9), (27.2, -5.0), (30.2, -3.1), (33.2, -1.9), (36.2, -1.1), (40, -0.85), (43.7, -0.75), (46.7, -0.45), (49.7, -1.1), (52.7, -2.7), (55.7, -4.3), (57.2, -5.0), (59, -9), (90, -9)]
E_GREEN = [(-90, -1.9), (-88.2, 0.8), (-86.2, -0.55), (-84, -1.3), (-81.7, -0.75), (-79.5, -0.75), (-77.2, -0.85), (-74.2, -0.15), (-72, -0.55), (-69, -1.7), (-66, -1.9), (-63, -1.9), (-60, -2.1), (-57, -2.5), (-53.2, -3.5), (-49.4, -3.9), (-44.9, -4.5), (-41.9, -4.7), (-39.7, -5.0), (-37, -9), (-23, -9), (-20.9, -5.0), (-17.9, -4.1), (-14.9, -3.1), (-11.9, -2.5), (-8.9, -2.1), (-5.9, -1.9), (-2.9, -1.6), (0.2, -1.7), (3.2, -2.3), (6.2, -3.3), (9.2, -4.3), (10.7, -5.0), (13, -9), (17.5, -9), (19.7, -5.0), (22.7, -2.9), (25.7, -0.95), (28.7, -0.55), (31.7, -0.65), (34.7, -0.55), (37.7, -1.1), (40.7, -1.9), (43.7, -2.3), (46.7, -2.7), (49.7, -3.9), (51.2, -5.0), (53, -9), (90, -9)]
E_RED = [(-90, -9), (-89.6, -5.0), (-88.2, -1.5), (-85.5, -2.3), (-83.2, -1.3), (-81, -1.2), (-78.7, -1.5), (-76.5, -0.95), (-73.5, -0.25), (-70.5, -0.95), (-67.5, -1.9), (-64.5, -1.9), (-61.5, -2.1), (-58.4, -2.5), (-55.4, -3.5), (-53.2, -5.0), (-51, -9), (40, -9), (42.2, -5.0), (45.2, -4.5), (47.5, -5.0), (49, -9), (64, -9), (66.3, -5.0), (67.8, -3.7), (70.8, -4.3), (73.8, -4.8), (76.8, -4.6), (79.8, -3.9), (82.8, -3.3), (85.8, -2.9), (88, -3.5), (90, -3.6)]
E_PURPLE = [(-90, -1.9), (-88.5, -0.35), (-86.2, -1.9), (-84, -2.3), (-81, -2.0), (-78, -2.1), (-75, -1.9), (-73.5, -1.5), (-70.5, -2.1), (-68.2, -3.5), (-65.2, -3.7), (-61.5, -3.9), (-58.4, -5.0), (-56, -9), (-9.5, -9), (-7.4, -5.0), (-4.4, -3.1), (-1.4, -0.75), (1.7, -0.35), (4.7, 0.2), (7.7, 0.6), (10.7, -0.35), (13.7, -1.5), (16.7, -3.5), (18.2, -5.0), (20, -9), (84, -9), (85.8, -5.0), (87.3, -4.0), (90, -4.3)]
E_BROWN = [(-90, -9), (-89.6, -5.0), (-88.5, -3.5), (-87, -5.0), (-85, -9), (-83.5, -9), (-81.7, -3.5), (-79.5, -3.1), (-77.2, -3.1), (-75, -1.9), (-72, -1.4), (-69, -1.8), (-65.2, -2.1), (-61.5, -2.3), (-58.4, -2.9), (-55.4, -3.9), (-53.2, -5.0), (-51, -9), (-2, -9), (0.2, -5.0), (2.4, -3.5), (5.4, -1.9), (8.4, -0.95), (11.4, -0.45), (13.7, -0.25), (16.7, -0.55), (19.7, -1.1), (22.7, -2.3), (25.7, -3.7), (27.2, -5.0), (29, -9), (44, -9), (45.9, -5.0), (48.2, -2.9), (51.2, -1.7), (54.2, -2.1), (57.2, -2.7), (60.2, -3.3), (63.3, -3.1), (66.3, -2.7), (68.5, -3.5), (70.8, -4.6), (73.8, -5.0), (76.8, -5.2), (79.8, -4.6), (82.8, -4.8), (85.8, -4.5), (88.8, -4.8), (90, -4.7)]
E_PINK = [(-90, -1.9), (-88.5, 0.2), (-86.2, -1.9), (-84, -2.5), (-81, -2.1), (-78, -2.3), (-75, -2.1), (-72.7, -2.5), (-70.5, -5.0), (-69, -9), (-9.5, -9), (-7.4, -5.0), (-4.4, -3.5), (-1.4, -1.9), (3.2, -0.35), (7.7, 0.8), (11.4, 1.2), (14.4, 1.2), (18.2, 0.4), (21.2, -1.1), (24.2, -2.7), (27.2, -4.1), (27.9, -5.0), (30, -9), (46, -9), (48.2, -5.0), (49.7, -3.1), (52.7, -3.0), (55.7, -2.9), (58.7, -2.8), (61.8, -3.2), (64.8, -2.9), (67, -1.9), (70, -2.1), (73, -3.1), (76.8, -2.5), (79.8, -2.3), (82.8, -2.3), (85.8, -1.7), (88.8, -2.3), (90, -2.3)]
E_SPREAD = [1.0, 0.8, 1.0, 1.0, 1.0, 1.0, 0.8]

# ---------------- (f) LHCP ----------------
F_BLUE = [(-90, -2.7), (-87.4, -3.5), (-85.2, -1.7), (-83, -3.1), (-80.7, -2.7), (-77.7, -2.7), (-74.7, -3.3), (-71.7, -3.7), (-68.7, -4.5), (-66.4, -5.0), (-64, -9), (-36, -9), (-34.2, -5.0), (-31.2, -3.1), (-28.1, -2.1), (-24.4, -1.6), (-22.1, -1.9), (-19.1, -3.1), (-16.9, -4.3), (-15.4, -5.0), (-13, -9), (-9.5, -9), (-7.9, -5.0), (-5.6, -2.3), (-2.6, 0.8), (-0.4, 2.0), (2.6, 2.6), (5.6, 3.0), (8.6, 2.6), (11.6, 1.4), (13.9, 0.05), (16.1, -2.1), (18.4, -4.6), (19.1, -5.0), (21, -9), (23.5, -9), (25.1, -5.0), (27.4, -2.5), (29.7, 0.4), (31.9, 2.8), (34.9, 4.7), (37.9, 5.9), (40.9, 6.6), (43.9, 7.0), (46.2, 6.8), (49.2, 6.5), (52.9, 6.2), (56.7, 5.7), (59.7, 4.7), (62.7, 3.8), (65.7, 3.2), (68.7, 2.8), (71.7, 1.8), (75.4, 1.0), (79.2, 0.4), (82.9, -0.15), (85.9, -0.55), (87.5, -0.25), (90, 0.05)]
F_ORANGE = [(-90, -3.0), (-89.4, -3.5), (-87.9, -3.9), (-85.9, -2.3), (-83.7, -3.1), (-81.9, -3.9), (-79.9, -3.3), (-77.7, -3.2), (-74.7, -3.5), (-71.7, -4.1), (-69.4, -5.0), (-67, -9), (-47, -9), (-44.7, -5.0), (-41.7, -3.1), (-38.7, -1.5), (-35.7, -0.55), (-32.7, 0.2), (-30.4, 0.4), (-28.1, 0.2), (-25.1, -0.75), (-22.1, -2.9), (-19.9, -5.0), (-18, -9), (-10, -9), (-8.6, -5.0), (-6.4, -0.95), (-4.1, 0.8), (-1.9, 1.6), (0.4, 1.2), (2.6, 0.05), (4.9, -1.9), (7.1, -5.0), (9, -9), (12, -9), (13.9, -5.0), (16.1, 0.05), (18.4, 4.3), (21.4, 6.8), (24.4, 8.2), (27.4, 9.2), (31.9, 9.5), (34.9, 9.0), (38.7, 8.0), (42.4, 6.6), (45.4, 5.3), (48.4, 2.9), (51.4, 0.6), (54.4, -1.1), (57.4, -2.3), (60.4, -3.3), (63.4, -4.3), (65.5, -3.1), (67.9, -2.5), (70.9, -1.5), (73.9, -1.1), (76.9, -0.95), (79.9, -1.0), (82.9, -1.1), (85.9, -0.85), (88.2, 0.05), (90, 0.4)]
F_GREEN = [(-90, -1.9), (-87.4, -2.9), (-85.2, -1.1), (-83, -2.7), (-80.7, -2.5), (-77.7, -2.5), (-74.7, -3.1), (-71.7, -3.9), (-68.7, -4.7), (-66.4, -5.0), (-64, -9), (-58, -9), (-56.7, -4.5), (-53.7, -4.5), (-49.2, -4.7), (-45.4, -4.1), (-42.4, -4.5), (-39.4, -5.0), (-37.5, -9), (-36.5, -9), (-35.7, -5.0), (-32.7, -2.9), (-29.7, -1.1), (-26.6, 0.4), (-23.6, 1.2), (-20.6, 1.8), (-17.6, 2.0), (-14.6, 2.1), (-11.6, 2.2), (-8.6, 2.6), (-5.6, 4.3), (-2.6, 6.1), (0.4, 7.8), (4.1, 9.4), (7.9, 10.6), (11.6, 11.1), (14.6, 11.2), (18.4, 10.8), (22.1, 9.7), (25.9, 8.4), (29.7, 6.8), (32.7, 4.7), (34.9, 2.4), (37.2, -0.55), (39.4, -3.5), (40.9, -5.0), (43, -9), (85, -9), (87.5, -4.3), (90, -3.5)]
F_RED = [(-90, -0.75), (-87.9, -1.9), (-85.9, -0.35), (-83.7, -1.1), (-81.4, -1.9), (-79.2, -1.3), (-76.2, -1.7), (-73.2, -2.3), (-70.2, -3.3), (-67.2, -4.3), (-64.2, -4.9), (-61.2, -4.8), (-56.7, -4.3), (-53.7, -3.9), (-50.7, -3.1), (-48.4, -1.9), (-45.4, -0.35), (-41.7, 0.4), (-38.7, 0.8), (-34.9, 1.2), (-31.9, 1.5), (-28.1, 1.2), (-25.1, 0.8), (-22.9, 0.8), (-20.6, 2.0), (-17.6, 4.3), (-14.6, 7.2), (-10.9, 10.2), (-7.1, 12.1), (-3.4, 13.3), (0.4, 13.7), (4.1, 13.4), (7.1, 12.8), (10.9, 11.1), (14.6, 9.2), (18.4, 6.6), (21.4, 3.5), (24.4, 0.4), (26.6, -0.75), (28.9, -1.1), (31.9, 0.2), (34.9, 0.8), (37.9, 1.1), (41.7, 1.0), (43.9, 0.6), (46.2, -0.75), (48.4, -1.7), (51.4, -2.1), (54.4, -2.3), (57.4, -2.5), (60.4, -2.9), (63.4, -3.4), (66.4, -3.1), (69.4, -1.9), (72.4, -1.3), (75.4, -1.7), (78.4, -1.1), (81.4, -1.3), (85.9, -1.3), (90, -0.15)]
F_PURPLE = [(-90, -4.5), (-87.9, -5.0), (-85.9, -3.5), (-83.7, -4.7), (-82, -5.0), (-80, -5.5), (-77.7, -4.7), (-75, -5.0), (-73.2, -4.8), (-70.2, -4.5), (-67.2, -4.3), (-64.2, -4.1), (-61.9, -3.9), (-59.7, -3.1), (-56.7, -1.5), (-53.7, -1.1), (-50.7, -1.1), (-47.7, -0.75), (-44.7, -0.35), (-41.7, 0.05), (-38.7, 0.8), (-35.7, 2.4), (-32.7, 4.3), (-29.7, 6.6), (-25.9, 8.8), (-22.1, 10.2), (-17.6, 10.8), (-13.1, 11.0), (-9.4, 10.5), (-5.6, 9.4), (-1.9, 7.8), (1.1, 5.9), (3.4, 3.5), (5.6, 0.4), (7.9, -3.1), (9.4, -5.0), (11, -9), (16.5, -9), (18.4, -5.0), (20.6, -3.7), (23.6, -3.3), (25.9, -3.7), (27.4, -5.0), (29, -9), (49, -9), (51.4, -5.0), (54.4, -3.7), (57.4, -1.9), (60.4, -2.5), (63.4, -2.9), (66.4, -2.3), (69.4, -1.5), (72.4, -2.1), (75.4, -2.5), (78.4, -2.1), (81.4, -1.9), (84.4, -2.1), (87.5, -1.7), (90, -0.95)]
F_BROWN = [(-90, -1.5), (-87.9, -1.9), (-85.9, -0.35), (-83.7, -1.1), (-81.4, -1.9), (-79.2, -1.5), (-76.2, -1.9), (-73.2, -2.5), (-70.2, -3.5), (-67.2, -4.5), (-65.5, -5.0), (-63, -9), (-57.5, -9), (-55.9, -5.0), (-53.7, -2.9), (-50.7, 0.05), (-47.7, 2.8), (-44.7, 4.9), (-41.7, 6.5), (-38.7, 7.8), (-34.9, 9.2), (-31.2, 10.0), (-26.6, 10.3), (-22.9, 10.0), (-19.1, 8.8), (-16.1, 7.2), (-13.1, 4.3), (-10.9, 0.4), (-9.4, -3.9), (-8.6, -5.0), (-7, -9), (-2, -9), (-0.4, -5.0), (1.9, -1.9), (4.1, -0.35), (6.4, 0.05), (8.6, -0.35), (10.9, -1.7), (13.1, -3.9), (14.6, -5.0), (16, -9), (21, -9), (22.9, -5.0), (25.1, -2.5), (27.4, -0.75), (29.7, -0.45), (31.9, -0.75), (34.9, -1.7), (37.9, -3.1), (40.2, -4.3), (40.9, -5.0), (43, -9), (52, -9), (54.4, -5.0), (57.4, -2.3), (60.4, -2.3), (63.4, -2.7), (66.4, -1.7), (69.4, -0.95), (72.4, -1.1), (75.4, -0.95), (78.4, -1.3), (81.4, -1.3), (84.4, -1.3), (87.5, -0.95), (90, -0.55)]
F_PINK = [(-90, -9), (-75, -9), (-73.2, -5.0), (-70.9, -3.5), (-68.7, -1.9), (-66.4, -0.95), (-64.2, 0.4), (-61.9, 2.0), (-59.7, 3.1), (-56.7, 5.1), (-53.7, 6.3), (-50.7, 7.0), (-47.7, 7.7), (-44.7, 8.0), (-40.9, 8.0), (-37.9, 7.6), (-34.9, 7.0), (-31.9, 6.3), (-28.9, 5.1), (-25.9, 3.3), (-23.6, 1.2), (-21.4, -0.95), (-19.1, -3.9), (-18.4, -5.0), (-16, -9), (-12, -9), (-10.1, -5.0), (-7.9, -1.1), (-5.6, 0.05), (-3.4, 0.2), (-1.1, -0.05), (1.1, -1.1), (3.4, -2.7), (5.6, -4.3), (7.1, -5.0), (9, -9), (14, -9), (16.1, -5.0), (18.4, -3.9), (20.6, -3.8), (22.9, -3.9), (25.1, -4.7), (27.4, -5.0), (29, -9), (39, -9), (40.9, -5.0), (43.2, -2.9), (45.4, -1.3), (48.4, -0.95), (51.4, -0.15), (54.4, 0.4), (57.4, 0.9), (59.7, 1.1), (61.9, 0.4), (64.2, -0.25), (66.4, 0.05), (69.4, 0.2), (72.4, -0.55), (75.4, -0.95), (78.4, -0.95), (81.4, -0.55), (84.4, -0.95), (87.5, -0.75), (90, -0.25)]
F_SPREAD = [0.6, 0.6, 0.6, 0.5, 0.9, 1.0, 0.8]

# ---------------- (g) RHCP ----------------
G_BLUE = [(-90, 0.1), (-88.5, 0.5), (-86.2, -1.0), (-84, 0.3), (-81, 0.5), (-78, 0.9), (-75, 2.1), (-72, 1.9), (-68.2, 1.7), (-64.5, 2.2), (-61.5, 2.4), (-57, 2.3), (-53.2, 1.7), (-49.4, 1.1), (-46.4, 0.5), (-43.4, -0.5), (-40.4, -2.2), (-38.2, -4.5), (-37.4, -5.0), (-35, -9), (-28, -9), (-26.1, -5.0), (-23.9, -2.6), (-20.9, -0.3), (-18.6, 0.7), (-16.4, 0.9), (-14.1, 0.7), (-11.9, -0.7), (-9.6, -2.6), (-7.4, -4.4), (-6.6, -5.0), (-4, -9), (-0.5, -9), (1.7, -5.0), (3.9, -2.2), (6.2, -1.1), (8.4, -1.1), (10.7, -2.2), (12.9, -4.0), (13.7, -5.0), (16, -9), (19, -9), (21.2, -5.0), (23.4, -1.8), (25.7, 1.3), (28, 4.0), (31, 6.0), (34, 7.1), (37.7, 8.0), (41.5, 8.3), (46, 8.3), (49.7, 7.7), (52.7, 6.8), (56.5, 5.6), (58.7, 4.4), (61.8, 3.4), (65.5, 2.3), (67.8, 1.1), (70, -0.7), (73, -2.8), (75.3, -4.0), (76.8, -5.0), (79, -9), (86, -9), (88, -5.0), (90, -4.8)]
G_ORANGE = [(-90, -0.3), (-88.5, 0.5), (-86.2, -0.5), (-84, -0.3), (-81, 0.1), (-78, 0.2), (-75, 0.9), (-72, 0.3), (-69, -0.7), (-66, -0.9), (-63, -1.3), (-60, -1.8), (-57, -3.0), (-54.7, -4.2), (-53.2, -5.0), (-51, -9), (-38, -9), (-35.9, -5.0), (-34.4, -3.8), (-31.4, -3.0), (-28.4, -2.6), (-25.4, -2.4), (-23.1, -2.6), (-21.6, -3.8), (-20.1, -5.0), (-18, -9), (-9.5, -9), (-7.4, -5.0), (-5.9, -2.6), (-3.6, -1.7), (-1.4, -1.6), (0.9, -2.2), (3.2, -3.8), (3.9, -5.0), (6, -9), (8.5, -9), (10.7, -5.0), (12.9, 0.1), (15.2, 3.0), (17.4, 5.6), (20.4, 7.5), (23.4, 9.1), (26.4, 10.2), (29.4, 10.7), (32.5, 10.5), (36.2, 9.9), (39.2, 8.9), (42.2, 7.9), (45.2, 6.8), (48.2, 5.2), (51.2, 3.4), (54.2, 1.7), (57.2, 0.1), (58.7, -1.8), (60.3, -3.8), (61, -5.0), (63, -9), (64, -9), (66.3, -5.0), (68.5, -3.6), (70.8, -4.2), (73, -5.0), (75.3, -4.2), (78.3, -3.4), (81.3, -3.3), (84.3, -3.4), (87.3, -3.0), (90, -3.4)]
G_GREEN = [(-90, -0.5), (-88.5, 0.5), (-86.2, -1.2), (-84.7, -1.3), (-82.5, -0.7), (-79.5, -0.4), (-76.5, -0.1), (-74.2, 0.7), (-72, 0.1), (-69, -0.5), (-66, -0.5), (-63, -0.3), (-60, -0.5), (-56.2, -0.9), (-53.2, -1.8), (-50.2, -2.6), (-46.4, -3.2), (-43.4, -4.0), (-41.9, -5.0), (-39, -9), (-35, -9), (-32.9, -5.0), (-29.9, -2.6), (-26.9, -0.7), (-23.9, 0.9), (-20.9, 2.0), (-17.9, 2.5), (-14.9, 2.3), (-11.9, 1.9), (-8.9, 2.1), (-5.9, 3.2), (-2.9, 5.2), (0.2, 6.9), (3.9, 8.9), (7.7, 10.5), (11.4, 11.4), (15.2, 11.8), (18.2, 11.7), (21.9, 11.0), (24.9, 9.9), (27.9, 8.5), (31, 7.1), (34.7, 6.0), (37.7, 4.3), (41.5, 2.7), (45.2, 1.5), (48.2, 0.1), (51.2, -1.8), (54.2, -2.4), (57.2, -3.6), (59.5, -5.0), (62, -9), (84, -9), (85.8, -5.0), (87.3, -3.8), (90, -4.0)]
G_RED = [(-90, 0.1), (-88.5, 1.3), (-86.2, -0.3), (-84, -0.3), (-81, 0.2), (-78, 0.1), (-75, 0.7), (-72, 0.1), (-69, -1.1), (-66, -1.6), (-63, -2.2), (-60, -2.6), (-57, -3.0), (-54, -3.6), (-51.7, -3.9), (-49.4, -3.4), (-46.4, -2.6), (-43.4, -1.3), (-40.4, 0.1), (-37.4, 0.9), (-34.4, 1.4), (-31.4, 0.9), (-28.4, 0.1), (-25.4, -0.9), (-22.4, -1.8), (-20.1, -1.6), (-17.9, 2.1), (-15.6, 5.0), (-13.4, 7.3), (-10.4, 9.7), (-7.4, 11.4), (-3.6, 12.6), (0.2, 13.3), (3.2, 13.4), (6.2, 13.0), (9.2, 12.0), (12.2, 10.3), (15.2, 8.1), (18.2, 5.6), (21.2, 2.9), (24.2, 0.5), (26.4, -0.5), (28.7, -0.3), (31, 0.9), (34, 1.7), (37, 1.7), (40, 1.1), (43, 0.7), (46, 0.3), (49, -1.1), (52, -2.6), (55, -4.2), (56.5, -5.0), (59, -9), (62, -9), (64.8, -5.0), (67, -3.6), (69.3, -3.4), (71.5, -4.4), (73, -4.8), (75.3, -3.8), (78.3, -3.2), (81.3, -3.4), (84.3, -3.0), (86.5, -2.8), (90, -3.4)]
G_PURPLE = [(-90, -1.6), (-88.5, 0.1), (-86.2, -1.2), (-84, -0.3), (-81, 0.5), (-78, 0.7), (-75, 1.7), (-72, 2.0), (-68.2, 2.1), (-64.5, 2.3), (-60.7, 2.5), (-57, 2.7), (-54, 2.1), (-50.9, 1.9), (-47.9, 1.3), (-44.2, 0.9), (-40.4, 1.1), (-37.4, 2.1), (-34.4, 3.6), (-31.4, 5.6), (-28.4, 7.3), (-24.6, 9.1), (-20.9, 10.3), (-17.1, 11.1), (-12.6, 11.4), (-8.9, 11.0), (-5.9, 10.3), (-2.9, 9.1), (0.2, 7.5), (3.2, 5.2), (6.2, 2.5), (9.2, -0.3), (11.4, -1.6), (13.7, -1.8), (16.7, -1.1), (19.7, -0.3), (22.7, 0.5), (25.7, 1.1), (28, 1.3), (31, 0.1), (34, -1.4), (36.2, -3.0), (39.2, -4.4), (40, -5.0), (42, -9), (62, -9), (64.8, -5.0), (67, -4.0), (70, -3.9), (72.3, -4.6), (74.5, -5.0), (76.8, -4.2), (79.8, -3.6), (82.8, -3.5), (85.8, -3.2), (88, -3.4), (90, -3.6)]
G_BROWN = [(-90, 0.9), (-88.5, 2.9), (-86.2, 1.3), (-84, 0.7), (-81, 0.9), (-78, 0.7), (-75, 0.7), (-72, -0.1), (-69.7, -1.8), (-67.5, -3.0), (-64.5, -3.8), (-61.5, -4.4), (-60, -4.9), (-57.7, -3.6), (-54.7, -1.8), (-51.7, 0.5), (-47.9, 3.4), (-44.2, 6.0), (-40.4, 7.9), (-36.7, 9.3), (-32.9, 10.4), (-29.1, 10.9), (-24.6, 11.0), (-20.9, 10.3), (-17.9, 9.1), (-14.9, 7.1), (-12.6, 4.8), (-10.4, 1.5), (-8.9, -1.8), (-7.4, -5.0), (-5, -9), (-3.5, -9), (-1.4, -5.0), (0.9, -1.8), (3.2, 0.5), (6.2, 2.3), (8.4, 2.1), (11.4, 0.5), (13.7, -1.6), (16.7, -3.8), (18.9, -5.0), (20.5, -6.5), (21.9, -5.0), (24.2, -2.6), (26.4, -1.1), (28.7, -0.1), (31.7, 0.4), (34.7, 0.3), (37.7, -0.7), (40.7, -2.3), (43.7, -3.8), (46, -5.0), (48, -9), (55, -9), (57.2, -5.0), (60.2, -4.2), (63.3, -3.2), (66.3, -1.6), (69.3, -1.3), (72.3, -2.2), (75.3, -2.2), (78.3, -1.6), (81.3, -1.8), (83.5, -1.9), (85.8, -1.6), (88, -1.8), (90, -2.3)]
G_PINK = [(-90, 1.3), (-88.5, 1.9), (-86.2, 1.1), (-84, 2.1), (-81.7, 3.0), (-78, 3.8), (-75, 4.8), (-72, 5.4), (-68.2, 5.8), (-64.5, 6.6), (-60, 7.3), (-56.2, 8.0), (-52.4, 8.3), (-47.9, 8.8), (-43.4, 8.8), (-38.9, 8.3), (-34.4, 7.3), (-30.6, 6.0), (-27.6, 4.0), (-24.6, 1.7), (-22.4, -1.1), (-20.1, -5.0), (-18, -9), (-14, -9), (-11.9, -5.0), (-9.6, -0.5), (-7.4, 2.1), (-5.1, 2.9), (-2.9, 3.3), (0.2, 2.9), (3.2, 0.9), (6.2, -1.3), (8.4, -3.4), (9.9, -5.0), (12, -9), (16, -9), (18.2, -5.0), (20.4, -3.4), (23.4, -1.6), (26.4, -0.4), (28.7, -0.3), (31, -1.1), (33.2, -1.8), (36.2, -3.4), (38.5, -5.0), (41, -9), (67, -9), (69.3, -5.0), (71.5, -4.4), (73.8, -4.6), (76.8, -3.8), (79.8, -3.6), (82.8, -3.4), (85.8, -3.4), (88, -3.2), (90, -3.8)]
G_SPREAD = [0.8, 0.6, 0.7, 0.5, 0.8, 0.7, 0.6]

# ---------------- (h) LHCP ----------------
H_BLUE = [(-90, -0.8), (-89.4, -1.1), (-87.4, -2.3), (-85.9, -0.7), (-83.7, -0.9), (-81.9, -1.8), (-79.2, -1.7), (-76.2, -2.2), (-73.2, -2.6), (-70.2, -3.2), (-67.2, -3.8), (-64.2, -3.9), (-61.2, -3.6), (-58.2, -3.4), (-55.2, -3.6), (-52.2, -4.0), (-49.2, -4.6), (-46.9, -5.0), (-45, -9), (-25, -9), (-22.9, -5.0), (-20.6, -3.4), (-17.6, -2.1), (-14.6, -1.3), (-11.6, -1.1), (-9.4, -1.6), (-7.1, -1.8), (-4.1, -2.2), (-1.9, -3.0), (0.4, -4.2), (1.9, -5.0), (4, -9), (27, -9), (28.9, -5.0), (31.9, -4.0), (36.4, -3.2), (39.4, -2.8), (42.4, -3.1), (45.4, -3.4), (48.4, -3.8), (51.4, -4.4), (53.7, -5.0), (56, -9), (90, -9)]
H_ORANGE = [(-90, -2.0), (-88.2, -3.0), (-87.4, -3.4), (-85.2, -2.6), (-82.9, -3.0), (-80.7, -2.4), (-78.4, -2.3), (-76.2, -2.8), (-73.2, -3.4), (-70.2, -4.2), (-67.2, -5.0), (-65, -9), (-35, -9), (-32.7, -5.0), (-30.4, -2.8), (-27.4, -1.3), (-24.4, -0.5), (-21.4, -0.3), (-18.4, -0.4), (-15.4, -1.3), (-13.1, -2.6), (-10.9, -3.6), (-7.9, -4.2), (-4.9, -4.5), (-1.9, -4.6), (1.1, -4.5), (2.6, -4.6), (4.1, -3.8), (6.4, -2.6), (9.4, -1.6), (12.4, -1.1), (15.4, -1.1), (18.4, -1.6), (21.4, -2.8), (24.4, -3.4), (26.6, -4.4), (28.2, -5.0), (30, -9), (53, -9), (55.2, -5.0), (57.4, -3.4), (60.4, -3.6), (62.7, -2.8), (65.7, -3.0), (68.7, -2.1), (71.7, -2.3), (74.7, -2.4), (78.4, -2.3), (81.4, -2.4), (84.4, -2.6), (87.5, -2.4), (90, -2.0)]
H_GREEN = [(-90, -1.9), (-87.4, -3.2), (-85.9, -1.3), (-83.7, -1.8), (-81.9, -2.6), (-79.2, -2.4), (-76.2, -2.8), (-73.2, -3.6), (-70.2, -4.4), (-67.9, -5.0), (-65, -9), (-60, -9), (-58.2, -5.0), (-55.9, -4.2), (-52.9, -4.0), (-49.9, -3.8), (-46.9, -3.4), (-43.9, -3.2), (-40.9, -3.8), (-37.9, -4.8), (-37.2, -5.0), (-35, -9), (-20, -9), (-18.4, -5.0), (-16.1, -3.8), (-13.1, -2.8), (-10.1, -2.4), (-7.1, -2.1), (-4.1, -1.6), (-1.9, -1.9), (0, -2.0), (1.9, -3.8), (2.6, -5.0), (5, -9), (9.5, -9), (11.6, -5.0), (13.9, -4.0), (16.9, -3.4), (19.9, -4.0), (22.1, -4.0), (25.1, -4.8), (25.9, -5.0), (28, -9), (84, -9), (86.7, -5.0), (88.2, -4.4), (90, -3.8)]
H_RED = [(-90, -2.5), (-88.5, -3.5), (-87.4, -3.2), (-85.9, -2.1), (-83.7, -3.0), (-81.9, -3.0), (-79.2, -2.8), (-76.2, -3.2), (-73.2, -3.8), (-70.2, -4.8), (-68.7, -5.0), (-66, -9), (50, -9), (52.9, -5.0), (55.2, -3.8), (57.4, -2.8), (60.4, -3.0), (63.4, -3.0), (65.7, -2.6), (68.7, -1.6), (71.7, -2.0), (74.7, -2.2), (77.7, -2.0), (80.7, -1.8), (83.7, -2.0), (86.7, -2.0), (90, -1.4)]
H_PURPLE = [(-90, -3.0), (-87.4, -3.8), (-85.9, -2.2), (-83.7, -3.2), (-81.4, -3.4), (-78.4, -3.4), (-75.4, -4.0), (-73.2, -4.8), (-71.7, -5.0), (-69, -9), (-18, -9), (-15.4, -5.0), (-13.1, -3.8), (-10.1, -3.2), (-7.1, -2.8), (-4.1, -2.4), (-1.9, -2.5), (0.4, -2.8), (2.6, -4.0), (4.1, -5.0), (6, -9), (37, -9), (39.4, -5.0), (42.4, -3.4), (45.4, -3.4), (48.4, -3.7), (51.4, -3.0), (54.4, -2.2), (57.4, -1.8), (60.4, -1.6), (63.4, -2.4), (66.4, -3.0), (68.7, -2.6), (70.9, -1.6), (73.9, -2.4), (76.9, -2.0), (79.9, -2.0), (82.9, -2.0), (85.9, -1.8), (88.2, -1.1), (90, -0.6)]
H_BROWN = [(-90, -2.7), (-88.2, -3.8), (-85.9, -2.2), (-83.7, -2.8), (-81.9, -3.8), (-79.9, -2.6), (-77.7, -2.6), (-74.7, -2.4), (-71.7, -2.3), (-68.7, -2.4), (-65.7, -2.6), (-62.7, -2.4), (-60.4, -1.8), (-58.2, -1.1), (-55.2, -0.5), (-52.2, -0.7), (-49.2, -0.8), (-45.4, -0.6), (-42.4, -0.9), (-39.4, -1.6), (-36.4, -2.8), (-34.2, -3.1), (-31.2, -3.0), (-28.1, -2.6), (-25.1, -2.4), (-22.1, -2.3), (-19.1, -2.2), (-16.1, -1.6), (-13.1, -1.1), (-10.1, -0.3), (-7.1, 0.0), (-4.9, -0.1), (-2.6, -0.7), (-0.4, -1.6), (1.9, -3.4), (4.1, -5.0), (6, -9), (60, -9), (61.9, -5.0), (64.9, -3.8), (67.9, -3.6), (70.9, -4.2), (73.9, -4.4), (76.9, -3.8), (79.9, -3.6), (82.9, -3.8), (85.9, -3.4), (90, -3.2)]
H_PINK = [(-90, -9), (-89, -5.0), (-88.2, -3.2), (-86.7, -3.4), (-85.2, -5.0), (-84, -9), (-61, -9), (-58.9, -5.0), (-56.7, -3.4), (-53.7, -1.6), (-50.7, -1.3), (-47.7, -0.3), (-44.7, 0.4), (-41.7, 0.4), (-38.7, 0.0), (-35.7, -0.7), (-32.7, -1.1), (-29.7, -1.5), (-26.6, -2.6), (-23.6, -4.2), (-21.4, -4.7), (-19.1, -4.4), (-16.9, -3.4), (-14.6, -1.8), (-11.6, -0.7), (-8.6, 0.5), (-5.6, 1.3), (-2.6, 1.9), (0, 1.9), (2.6, 1.3), (4.9, 0.5), (7.1, -0.3), (9.4, -2.0), (11.6, -4.0), (13.1, -5.0), (15, -9), (27, -9), (28.9, -5.0), (31.9, -3.4), (34.9, -2.6), (37.9, -1.8), (40.9, -1.5), (43.9, -1.2), (46.2, -1.6), (48.4, -2.1), (50.7, -2.2), (52.9, -1.8), (55.9, -1.6), (58.9, -1.7), (61.9, -2.0), (64.2, -3.0), (66.4, -3.8), (68.7, -3.4), (70.9, -3.8), (73.9, -4.2), (76.9, -3.8), (79.9, -3.6), (82.9, -3.8), (85.9, -3.4), (90, -2.6)]
H_SPREAD = [1.0, 1.4, 1.1, 0.6, 0.8, 0.6, 0.8]

# 面板: (标签, y 轴标题, y 范围, 曲线, 带宽)
PANELS = [
    ('(a)', 'Vertical (dBi)', (-5, 15), [A_BLUE, A_ORANGE, A_GREEN, A_RED, A_PURPLE, A_BROWN, A_PINK], A_SPREAD),
    ('(b)', 'Horizontal (dBi)', (-15, 5), [B_BLUE, B_ORANGE, B_GREEN, B_RED, B_PURPLE, B_BROWN, B_PINK], B_SPREAD),
    ('(c)', 'Vertical (dBi)', (-5, 15), [C_BLUE, C_ORANGE, C_GREEN, C_RED, C_PURPLE, C_BROWN, C_PINK], C_SPREAD),
    ('(d)', 'Horizontal (dBi)', (-5, 15), [D_BLUE, D_ORANGE, D_GREEN, D_RED, D_PURPLE, D_BROWN, D_PINK], D_SPREAD),
    ('(e)', 'RHCP (dBiC)', (-5, 15), [E_BLUE, E_ORANGE, E_GREEN, E_RED, E_PURPLE, E_BROWN, E_PINK], E_SPREAD),
    ('(f)', 'LHCP (dBiC)', (-5, 15), [F_BLUE, F_ORANGE, F_GREEN, F_RED, F_PURPLE, F_BROWN, F_PINK], F_SPREAD),
    ('(g)', 'RHCP (dBiC)', (-5, 15), [G_BLUE, G_ORANGE, G_GREEN, G_RED, G_PURPLE, G_BROWN, G_PINK], G_SPREAD),
    ('(h)', 'LHCP (dBiC)', (-5, 15), [H_BLUE, H_ORANGE, H_GREEN, H_RED, H_PURPLE, H_BROWN, H_PINK], H_SPREAD),
]

# 像素布局 (窗口坐标); 右列略左移, 让右端 "90" 不被裁掉
COLS = [(208, 1010), (1259, 2062)]
ROWS = [(78, 640), (896, 1458), (1712, 2275), (2531, 3092)]
LABEL_POS = [(48, 45), (1085, 45), (45, 876), (1085, 858), (45, 1711), (1080, 1675), (48, 2493), (1085, 2493)]
YTITLE_X = [42, 1084]
XTITLE_DY = [183, 183, 183, 176]

FONT = 'Liberation Serif'
FS_TICK = 62
FS_YT = 60
FS_XT = 64


def px(x):
    return (x - PAD) / W


def py(y):
    return 1 - (y - PAD) / H


fig = go.Figure()
annotations = []

for i, (label, ytitle, yr, traces, spread) in enumerate(PANELS):
    n = i + 1
    xa = 'x' if n == 1 else f'x{n}'
    ya = 'y' if n == 1 else f'y{n}'
    c0, c1 = COLS[i % 2]
    r0, r1 = ROWS[i // 2]

    # 阴影带
    for k, pts in enumerate(traces):
        xs = [p[0] for p in pts]
        ys = [p[1] for p in pts]
        s = spread[k]
        fig.add_trace(go.Scatter(
            x=xs + xs[::-1], y=[v + s for v in ys] + [v - s for v in ys[::-1]],
            xaxis=xa, yaxis=ya, mode='lines', fill='toself',
            fillcolor=FILLS[k], line=dict(width=0), hoverinfo='skip', showlegend=False,
        ))
    # 曲线
    for k, pts in enumerate(traces):
        fig.add_trace(go.Scatter(
            x=[p[0] for p in pts], y=[p[1] for p in pts],
            xaxis=xa, yaxis=ya, mode='lines',
            line=dict(color=COLORS[k], width=5.5), showlegend=False,
        ))

    yticks = list(range(yr[0], yr[1] + 1, 5))
    axis_common = dict(
        showline=True, linewidth=4.5, linecolor='black', mirror=True,
        ticks='outside', ticklen=28, tickwidth=4.5, tickcolor='black',
        showgrid=True, gridcolor='#b0b0b0', gridwidth=3.5, zeroline=False,
        automargin=False,
        tickfont=dict(family=FONT, size=FS_TICK, color='black'),
    )
    fig.update_layout(**{
        ('xaxis' if n == 1 else f'xaxis{n}'): dict(
            domain=[px(c0), px(c1)], anchor=ya, range=[-90, 90],
            tickvals=X_TICKS, ticktext=X_TICKTEXT, **axis_common),
        ('yaxis' if n == 1 else f'yaxis{n}'): dict(
            domain=[py(r1), py(r0)], anchor=xa, range=list(yr),
            tickvals=yticks, ticktext=[str(v) for v in yticks], ticklabelstandoff=13, **axis_common),
    })

    # 轴标题与面板标签
    annotations.append(dict(
        text=ytitle, x=px(YTITLE_X[i % 2]), y=py((r0 + r1) / 2), textangle=-90,
        font=dict(family=FONT, size=FS_YT, color='black')))
    annotations.append(dict(
        text='<span style="font-family:DejaVu Sans"><i>\u03b8</i></span> (deg)',
        x=px((c0 + c1) / 2), y=py(r1 + XTITLE_DY[i // 2]),
        font=dict(family=FONT, size=FS_XT, color='black')))
    lx, ly = LABEL_POS[i]
    annotations.append(dict(
        text=label, x=px(lx), y=py(ly),
        font=dict(family=FONT, size=FS_XT, color='black')))

for a in annotations:
    a.update(xref='paper', yref='paper', xanchor='center', yanchor='middle', showarrow=False)

fig.update_layout(
    template='none',
    width=W, height=H,
    margin=dict(l=0, r=0, t=0, b=0, autoexpand=False),
    paper_bgcolor='white', plot_bgcolor='white',
    showlegend=False,
    annotations=annotations,
)

fig.write_html("out.html")
